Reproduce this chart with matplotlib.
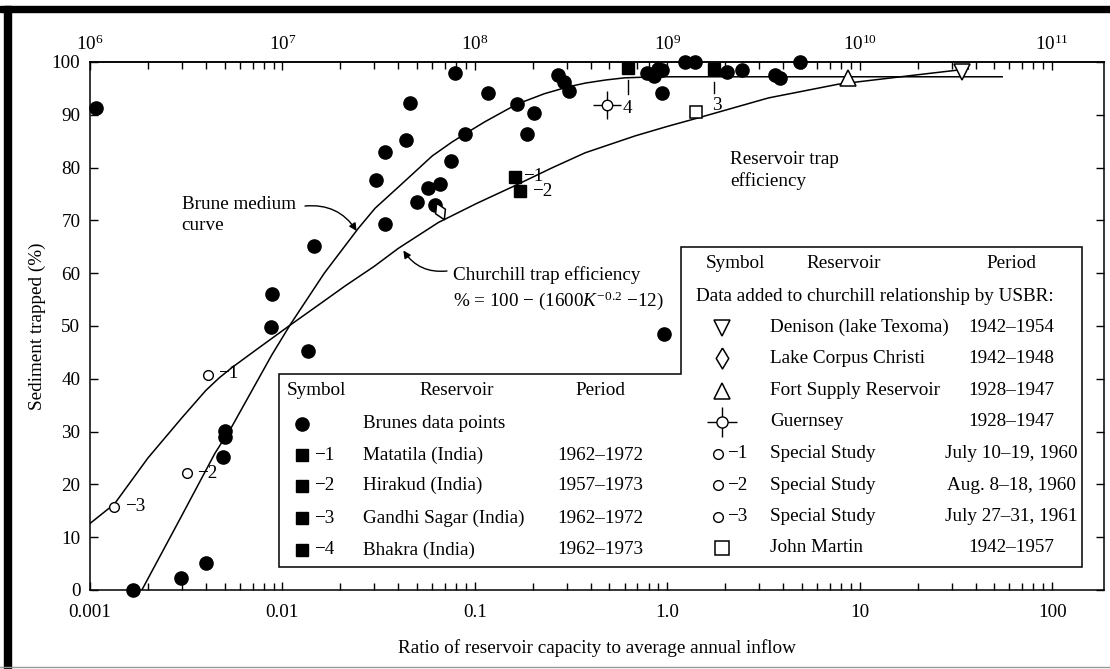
import numpy as np
import matplotlib
matplotlib.use("Agg")
import matplotlib.pyplot as plt
from matplotlib import transforms as mtransforms
from matplotlib.patches import Polygon, Rectangle
from matplotlib.lines import Line2D
from matplotlib.markers import MarkerStyle
from matplotlib.ticker import LogLocator, NullFormatter

plt.rcParams['font.family'] = ['Liberation Serif', 'DejaVu Serif']
plt.rcParams['mathtext.fontset'] = 'custom'
plt.rcParams['mathtext.rm'] = 'Liberation Serif'
plt.rcParams['mathtext.it'] = 'Liberation Serif:italic'
plt.rcParams['mathtext.bf'] = 'Liberation Serif:bold'

# ---- data ----
# Brune's data points (ratio capacity/inflow, % trapped)
brune_x = [0.00108, 0.00167, 0.00297, 0.00401, 0.00493, 0.00503, 0.00503,
           0.00873, 0.00887, 0.0135, 0.01455, 0.0305, 0.0341, 0.0341, 0.0437,
           0.046, 0.0503, 0.0573, 0.0621, 0.0659, 0.075, 0.0789, 0.0889,
           0.1175, 0.165, 0.186, 0.204, 0.27, 0.29, 0.31, 0.78, 0.85, 0.90,
           0.94, 0.944, 0.962, 1.24, 1.39, 2.04, 2.44, 3.63, 3.86, 4.9]
brune_y = [91.2, 0.0, 2.2, 5.2, 25.2, 28.9, 30.2,
           49.9, 56.0, 45.2, 65.2, 77.7, 82.9, 69.3, 85.2,
           92.3, 73.4, 76.2, 72.9, 76.8, 81.3, 98.0, 86.4,
           94.2, 92.0, 86.3, 90.3, 97.5, 96.3, 94.5, 97.9, 97.3, 98.6,
           98.4, 94.1, 48.4, 100.0, 100.0, 98.2, 98.5, 97.5, 96.9, 100.0]

# Indian reservoirs (filled squares)
india_x = [0.1618, 0.1718, 1.74, 0.624]
india_y = [78.3, 75.6, 98.7, 98.8]
india_names = ["Matatila (India)", "Hirakud (India)", "Gandhi Sagar (India)", "Bhakra (India)"]
india_periods = ["1962\u20131972", "1957\u20131973", "1962\u20131972", "1962\u20131973"]

# USBR additions
denison = (34.0, 98.2)
corpus_christi = (0.066, 71.7)
fort_supply = (8.74, 96.9)
guernsey = (0.485, 91.9)
john_martin = (1.41, 90.6)
special_x = [0.00412, 0.00318, 0.00134]
special_y = [40.7, 22.1, 15.8]
usbr_names = ["Denison (lake Texoma)", "Lake Corpus Christi", "Fort Supply Reservoir",
              "Guernsey", "Special Study", "Special Study", "Special Study", "John Martin"]
usbr_periods = ["1942\u20131954", "1942\u20131948", "1928\u20131947", "1928\u20131947",
                "July 10\u201319, 1960", "Aug. 8\u201318, 1960", "July 27\u201331, 1961",
                "1942\u20131957"]

# curves
brune_curve_x = [0.00186, 0.0030, 0.00446, 0.00545, 0.0088, 0.011, 0.0165, 0.0248,
                 0.0303, 0.040, 0.0509, 0.060, 0.0758, 0.0889, 0.113, 0.165, 0.23,
                 0.306, 0.374, 0.48, 0.6, 0.8, 1.0, 55.0]
brune_curve_y = [0.0, 14.1, 25.9, 30.9, 44.5, 50.3, 60.0, 68.5,
                 72.3, 76.3, 79.8, 82.2, 84.8, 86.4, 88.7, 92.0, 94.0,
                 95.3, 96.0, 96.6, 97.0, 97.15, 97.2, 97.2]
churchill_x = [0.001, 0.00134, 0.002, 0.003, 0.004, 0.0047, 0.0055, 0.0075, 0.011,
               0.0167, 0.0212, 0.030, 0.040, 0.0646, 0.102, 0.162, 0.25, 0.374, 0.68,
               1.0, 1.41, 3.36, 7.75, 20.2, 36.7]
churchill_y = [12.6, 16.3, 25.0, 32.6, 37.8, 40.2, 42.2, 45.8, 50.2,
               54.9, 57.6, 61.3, 64.7, 69.6, 73.2, 76.6, 79.9, 82.8, 86.0,
               87.8, 89.3, 93.2, 95.8, 97.6, 98.7]

x_major = [0.001, 0.01, 0.1, 1.0, 10, 100]
x_labels = ["0.001", "0.01", "0.1", "1.0", "10", "100"]
top_major = [1e6, 1e7, 1e8, 1e9, 1e10, 1e11]
top_labels = ["$10^{6}$", "$10^{7}$", "$10^{8}$", "$10^{9}$", "$10^{10}$", "$10^{11}$"]
y_ticks = list(range(0, 101, 10))

# ---- figure ----
W, H = 1110, 669
fig = plt.figure(figsize=(W / 100, H / 100), dpi=100)
px = mtransforms.Affine2D().scale(1 / W, -1 / H).translate(0, 1) + fig.transFigure
FS = 13.8

ax = fig.add_axes([90 / W, 1 - 590 / H, (1104 - 90) / W, (590 - 62) / H])
ax.set_xscale('log')
ax.set_xlim(0.001, 186)
ax.set_ylim(0, 100)
for s in ax.spines.values():
    s.set_linewidth(1.1)

ax.set_xticks(x_major, x_labels)
ax.xaxis.set_minor_locator(LogLocator(base=10, subs=np.arange(2, 10)))
ax.xaxis.set_minor_formatter(NullFormatter())
ax.set_yticks(y_ticks)
ax.tick_params(axis='both', which='both', direction='in', width=1)
ax.tick_params(axis='x', which='major', length=5.8, pad=10, labelsize=FS, top=False)
ax.tick_params(axis='x', which='minor', length=5, top=False)
ax.tick_params(axis='y', which='major', length=5.8, pad=7, labelsize=FS, right=True)

sec = ax.secondary_xaxis('top', functions=(lambda v: v * 1e9, lambda v: v / 1e9))
sec.set_xticks(top_major, top_labels)
sec.xaxis.set_minor_locator(LogLocator(base=10, subs=np.arange(2, 10)))
sec.xaxis.set_minor_formatter(NullFormatter())
sec.tick_params(which='both', direction='in', width=1, labelsize=FS)
sec.tick_params(which='major', length=5.8, pad=6)
sec.tick_params(which='minor', length=5)
sec.spines['top'].set_linewidth(1.1)

# curves
ax.plot(brune_curve_x, brune_curve_y, color='black', lw=1.1, zorder=2)
ax.plot(churchill_x, churchill_y, color='black', lw=1.1, zorder=2)

# points
ax.plot(brune_x, brune_y, 'o', color='black', ms=9.5, clip_on=False, zorder=4)
ax.plot(india_x, india_y, 's', color='black', ms=9, clip_on=False, zorder=4)
ax.plot(*denison, 'v', mfc='white', mec='black', mew=1.1, ms=11, clip_on=False, zorder=4)
ax.plot(*fort_supply, '^', mfc='white', mec='black', mew=1.1, ms=11, zorder=4)
ax.plot(*john_martin, 's', mfc='white', mec='black', mew=1.1, ms=9, zorder=4)
diamond = [(0, 1), (0.6, 0), (0, -1), (-0.6, 0), (0, 1)]
ax.plot(*corpus_christi, marker=MarkerStyle(diamond, transform=mtransforms.Affine2D().rotate_deg(25)),
        mfc='white', mec='black', mew=1.1, ms=13, zorder=4)
ax.plot(*guernsey, '+', color='black', mew=1.0, ms=20, zorder=4)
ax.plot(*guernsey, 'o', mfc='white', mec='black', mew=1.0, ms=7.5, zorder=5)
ax.plot(special_x, special_y, 'o', mfc='white', mec='black', mew=1.0, ms=7, zorder=4)

# point labels and leaders
ax.plot([india_x[3], india_x[3]], [96.5, 94.0], color='black', lw=1)
ax.plot([india_x[2], india_x[2]], [96.3, 94.2], color='black', lw=1)
lab = dict(transform=px, fontsize=FS, ha='center', va='center', zorder=6)
ax.text(533, 176.7, "\u22121", **lab)
ax.text(542, 191.7, "\u22122", **lab)
ax.text(627, 108.3, "4", **lab)
ax.text(717, 105, "3", **lab)
ax.text(228, 374, "\u22121", **lab)
ax.text(207.5, 474, "\u22122", **lab)
ax.text(135, 506.7, "\u22123", **lab)

# annotations
ax.text(181.7, 214.7, "Brune medium\ncurve", transform=px, fontsize=FS, ha='left',
        va='center', linespacing=1.3)
ax.annotate("", xy=(0.0243, 68.0), xytext=(305, 206), textcoords=px,
            arrowprops=dict(arrowstyle='-|>', color='black', lw=1, mutation_scale=11,
                            connectionstyle='arc3,rad=-0.3', shrinkA=0, shrinkB=0))
ax.text(453.3, 275, "Churchill trap efficiency", transform=px, fontsize=FS,
        ha='left', va='center')
ax.text(453.3, 301, "% = 100 \u2212 (1600$K^{-0.2}$ \u221212)", transform=px,
        fontsize=FS, ha='left', va='center')
ax.annotate("", xy=(0.0425, 64.3), xytext=(447, 271), textcoords=px,
            arrowprops=dict(arrowstyle='-|>', color='black', lw=1, mutation_scale=11,
                            connectionstyle='arc3,rad=-0.3', shrinkA=0, shrinkB=0))
ax.text(730, 170.8, "Reservoir trap\nefficiency", transform=px, fontsize=FS,
        ha='left', va='center', linespacing=1.3)

# axis labels
fig.text(37, 326, "Sediment trapped (%)", transform=px, fontsize=FS, rotation=90,
         ha='center', va='center')
fig.text(597, 648, "Ratio of reservoir capacity to average annual inflow", transform=px,
         fontsize=FS, ha='center', va='center')

# ---- legend boxes ----
box = Polygon([(279.3, 374), (680.7, 374), (680.7, 247.3), (1081.7, 247.3),
               (1081.7, 566.7), (279.3, 566.7)], closed=True, transform=px,
              facecolor='white', edgecolor='black', lw=1.1, zorder=10)
fig.add_artist(box)

def ltext(x, y, s, ha='left'):
    fig.text(x, y, s, transform=px, fontsize=FS, ha=ha, va='center', zorder=11)

def lmark(x, y, **kw):
    fig.add_artist(Line2D([x], [y], transform=px, color='black', zorder=11, **kw))

# left block
ltext(316, 390.7, "Symbol", 'center')
ltext(456.7, 390.7, "Reservoir", 'center')
ltext(600, 390.7, "Period", 'center')
rows1 = [424, 455, 485.7, 518.3, 550]
lmark(301.7, rows1[0], marker='o', ms=9.5)
ltext(363.3, rows1[0], "Brunes data points")
for i, name in enumerate(india_names):
    y = rows1[i + 1]
    lmark(301.7, y, marker='s', ms=9)
    ltext(314, y, "\u2212%d" % (i + 1))
    ltext(363.3, y, name)
    ltext(600, y, india_periods[i], 'center')

# right block
ltext(735, 264, "Symbol", 'center')
ltext(844, 264, "Reservoir", 'center')
ltext(1011, 264, "Period", 'center')
ltext(875, 296.7, "Data added to churchill relationship by USBR:", 'center')
rows2 = [327.7, 358.3, 390.7, 421.7, 454, 485, 516.5, 548]
open_kw = dict(mfc='white', mec='black', mew=1.1)
lmark(721.7, rows2[0], marker='v', ms=11, **open_kw)
lmark(721.7, rows2[1], marker=diamond, ms=15, **open_kw)
lmark(721.7, rows2[2], marker='^', ms=11, **open_kw)
lmark(721.7, rows2[3], marker='+', ms=21, mew=1.0)
lmark(721.7, rows2[3], marker='o', ms=8, mfc='white', mec='black', mew=1.0)
for k in range(3):
    lmark(718.3, rows2[4 + k], marker='o', ms=7, mfc='white', mec='black', mew=1.0)
    ltext(727, rows2[4 + k], "\u2212%d" % (k + 1))
lmark(721.7, rows2[7], marker='s', ms=10, **open_kw)
for name, period, y in zip(usbr_names, usbr_periods, rows2):
    ltext(770, y, name)
    ltext(1011, y, period, 'center')

# scan frame
fig.add_artist(Rectangle((0, 6), W, 6, transform=px, color='black', zorder=12))
fig.add_artist(Rectangle((4, 6), 7, H - 6, transform=px, color='black', zorder=12))
fig.add_artist(Line2D([0, W], [667, 667], transform=px, color='#999999', lw=1, zorder=12))

fig.savefig("out.png", dpi=100)
